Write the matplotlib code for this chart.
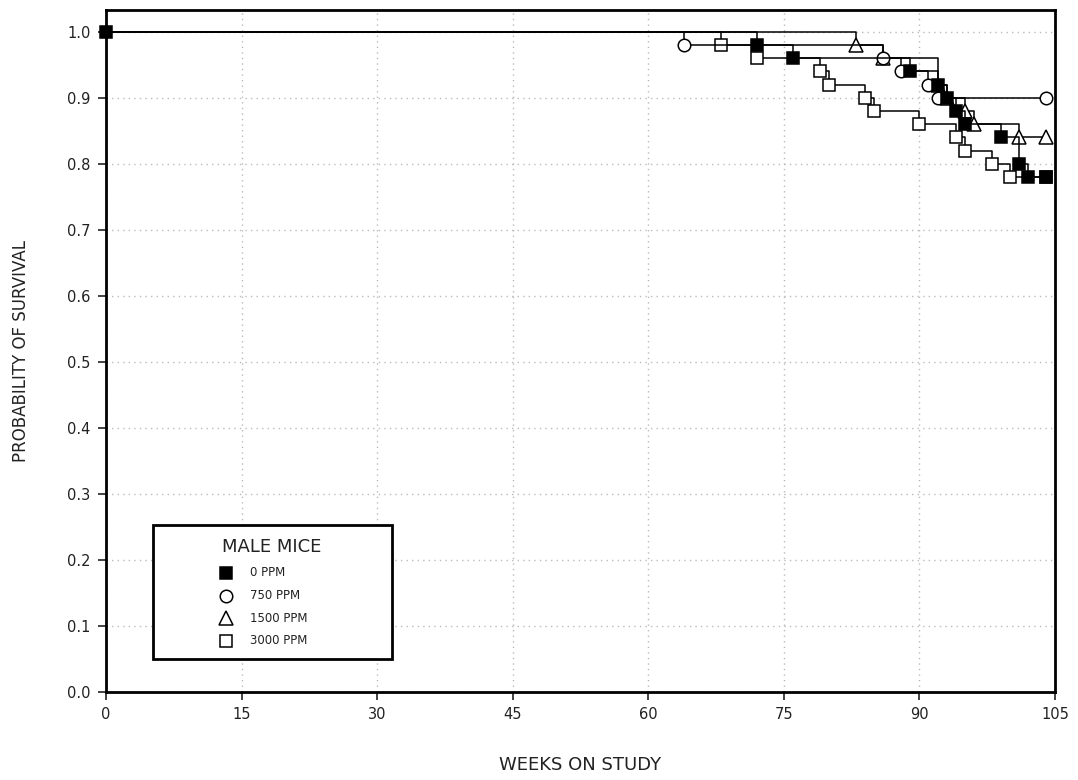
import matplotlib
matplotlib.use("Agg")
import matplotlib.pyplot as plt
from matplotlib.patches import Rectangle

# survival data (weeks, probability)
weeks_0 = [0, 72, 76, 89, 92, 93, 94, 95, 99, 101, 102, 104]
surv_0 = [1.0, 0.98, 0.96, 0.94, 0.92, 0.90, 0.88, 0.86, 0.84, 0.80, 0.78, 0.78]

weeks_750 = [0, 64, 86, 88, 91, 92, 104]
surv_750 = [1.0, 0.98, 0.96, 0.94, 0.92, 0.90, 0.90]

weeks_1500 = [0, 83, 86, 92, 93, 95, 96, 101, 104]
surv_1500 = [1.0, 0.98, 0.96, 0.92, 0.90, 0.88, 0.86, 0.84, 0.84]

weeks_3000 = [0, 68, 72, 79, 80, 84, 85, 90, 94, 95, 98, 100, 104]
surv_3000 = [1.0, 0.98, 0.96, 0.94, 0.92, 0.90, 0.88, 0.86, 0.84, 0.82, 0.80, 0.78, 0.78]

groups = ["0 PPM", "750 PPM", "1500 PPM", "3000 PPM"]
x_ticks = [0, 15, 30, 45, 60, 75, 90, 105]
y_ticks = [0.0, 0.1, 0.2, 0.3, 0.4, 0.5, 0.6, 0.7, 0.8, 0.9, 1.0]

txt = "#222222"
fig = plt.figure(figsize=(10.78, 7.80), dpi=100)
ax = fig.add_axes([106 / 1078, 1 - 692 / 780, 949 / 1078, 682 / 780])

# draw order: hollow ones first, filled squares on top
series = [
    (weeks_3000, surv_3000, "s", "white"),
    (weeks_1500, surv_1500, "^", "white"),
    (weeks_750, surv_750, "o", "white"),
    (weeks_0, surv_0, "s", "black"),
]
for i, (w, s, m, fc) in enumerate(series):
    ax.step(w, s, where="post", color="black", lw=1.1, zorder=2 + i)
    start = 0 if fc == "black" else 1
    ax.plot(w[start:], s[start:], ls="none", marker=m, ms=9 if m != "^" else 10,
            mfc=fc, mec="black", mew=1.1, zorder=2.5 + i, clip_on=False)

ax.set_xlim(0, 105)
ax.set_ylim(0, 1.033)
ax.set_xticks(x_ticks)
ax.set_yticks(y_ticks)
ax.set_yticklabels([f"{v:.1f}" for v in y_ticks])
ax.tick_params(direction="out", length=6, width=1.2, labelsize=10.5,
               colors=txt, pad=5)
ax.grid(True, color="#bbbbbb", ls=(0, (1, 3)), lw=1.0)
for sp in ax.spines.values():
    sp.set_linewidth(2)
    sp.set_zorder(20)

ax.set_xlabel("WEEKS ON STUDY", fontsize=13, color=txt, va="center")
ax.xaxis.set_label_coords(0.5, -0.107)
ax.set_ylabel("PROBABILITY OF SURVIVAL", fontsize=12, color=txt, va="center")
ax.yaxis.set_label_coords(-0.09, 0.5)

# legend box drawn by hand to match the original layout
ax.add_patch(Rectangle((0.0495, 0.0484), 0.2519, 0.1965, transform=ax.transAxes,
                       fill=True, fc="white", ec="black", lw=2, zorder=10))
ax.text(0.1749, 0.2126, "MALE MICE", transform=ax.transAxes, ha="center",
        va="center", fontsize=13, color=txt, zorder=11)
leg_marks = [("s", "black"), ("o", "white"), ("^", "white"), ("s", "white")]
row_y = [0.1745, 0.1408, 0.1085, 0.0748]
for (m, fc), yy, lab in zip(leg_marks, row_y, groups):
    ax.plot([0.1264], [yy], transform=ax.transAxes, marker=m, ms=9 if m != "^" else 10,
            mfc=fc, mec="black", mew=1.1, ls="none", zorder=11, clip_on=False)
    ax.text(0.1517, yy, lab, transform=ax.transAxes, ha="left", va="center",
            fontsize=8.5, color=txt, zorder=11)

fig.savefig("out.png", dpi=100)
